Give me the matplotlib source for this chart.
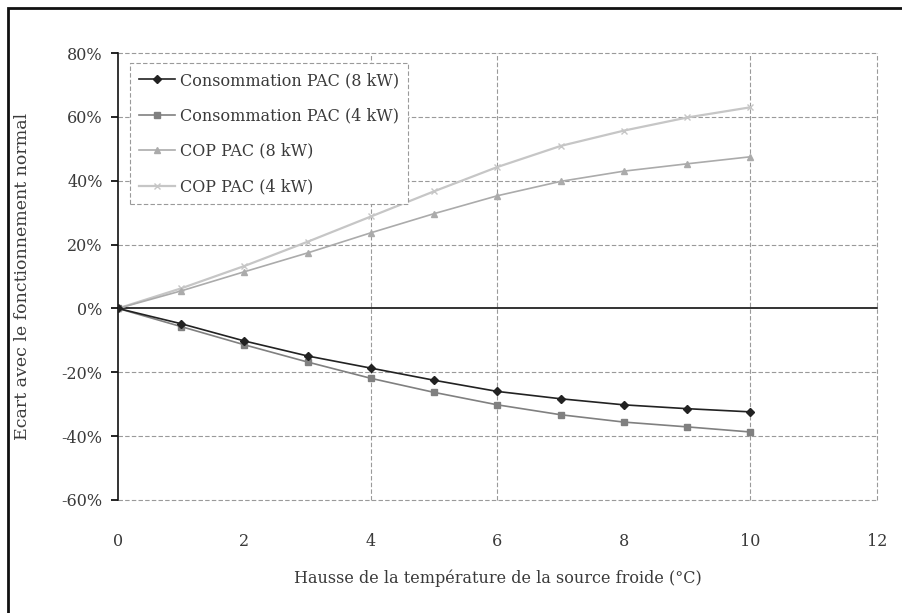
import matplotlib
matplotlib.use("Agg")
import matplotlib.pyplot as plt
from matplotlib.patches import Rectangle
from matplotlib.ticker import FuncFormatter

x = [0, 1, 2, 3, 4, 5, 6, 7, 8, 9, 10]
conso_8kw = [0, -4.8, -10.2, -14.9, -18.7, -22.5, -26.0, -28.3, -30.2, -31.4, -32.4]
conso_4kw = [0, -5.7, -11.4, -16.8, -21.9, -26.3, -30.2, -33.3, -35.6, -37.1, -38.7]
cop_8kw = [0, 5.5, 11.5, 17.4, 23.7, 29.7, 35.3, 39.8, 43.0, 45.3, 47.5]
cop_4kw = [0, 6.3, 13.3, 20.9, 28.8, 36.7, 44.3, 50.9, 55.7, 59.8, 63.0]

labels = ["Consommation PAC (8 kW)", "Consommation PAC (4 kW)",
          "COP PAC (8 kW)", "COP PAC (4 kW)"]
xticks = [0, 2, 4, 6, 8, 10, 12]
yticks = [-60, -40, -20, 0, 20, 40, 60, 80]
grid_x = [4, 6, 10, 12]
grid_y = [-60, -40, -20, 20, 40, 60, 80]

plt.rcParams['font.family'] = ['DejaVu Serif']
txt = '#3a3a3a'

fig = plt.figure(figsize=(9.03, 6.13), dpi=100)
ax = fig.add_axes([118 / 903, 113 / 613, 759 / 903, 447 / 613])

# frame around the picture (left and top only, the rest is cropped)
fig.patches.append(Rectangle((8 / 903, -0.1), 2, (613 - 8) / 613 + 0.1,
                             transform=fig.transFigure, fill=False,
                             edgecolor='#111111', linewidth=2))

gs = dict(color='#9a9a9a', linestyle=(0, (4, 2)), linewidth=0.8, zorder=1,
          clip_on=False)
for g in grid_x:
    ax.axvline(g, **gs)
for g in grid_y:
    ax.axhline(g, **gs)
ax.axhline(0, color='#111111', linewidth=1.2, zorder=2, clip_on=False)

ax.plot(x, conso_8kw, color='#222222', marker='D', markersize=4.5, lw=1.2,
        label=labels[0], zorder=5)
ax.plot(x, conso_4kw, color='#808080', marker='s', markersize=5, lw=1.2,
        label=labels[1], zorder=4)
ax.plot(x, cop_8kw, color='#ababab', marker='^', markersize=5, lw=1.2,
        label=labels[2], zorder=4)
ax.plot(x, cop_4kw, color='#c6c6c6', marker='x', markersize=4, lw=1.6,
        label=labels[3], zorder=3)

ax.set_xlim(0, 12)
ax.set_ylim(-60, 80)
ax.set_xticks(xticks)
ax.set_yticks(yticks)
ax.yaxis.set_major_formatter(FuncFormatter(lambda v, p: f"{v:.0f}%"))

for s in ['top', 'right', 'bottom']:
    ax.spines[s].set_visible(False)
ax.spines['left'].set_color('#111111')
ax.spines['left'].set_linewidth(1.2)
ax.tick_params(axis='y', direction='out', length=5, width=1.2,
               labelsize=11.5, labelcolor=txt, pad=6)
ax.tick_params(axis='x', length=0, labelsize=11.5, labelcolor=txt, pad=24)

ax.set_xlabel("Hausse de la température de la source froide (°C)",
              fontsize=11.5, color=txt, labelpad=14)
ax.set_ylabel("Ecart avec le fonctionnement normal", fontsize=12.5,
              color=txt, labelpad=22)

leg = ax.legend(loc='upper left', bbox_to_anchor=(0.005, 0.995),
                fontsize=11.5, frameon=True, fancybox=False, framealpha=1,
                handlelength=2.3, handletextpad=0.3, labelspacing=1.15,
                borderpad=0.55, labelcolor=txt)
leg.get_frame().set_edgecolor('#9a9a9a')
leg.get_frame().set_linestyle((0, (4, 2)))
leg.get_frame().set_linewidth(0.8)

fig.savefig("out.png", dpi=100)
